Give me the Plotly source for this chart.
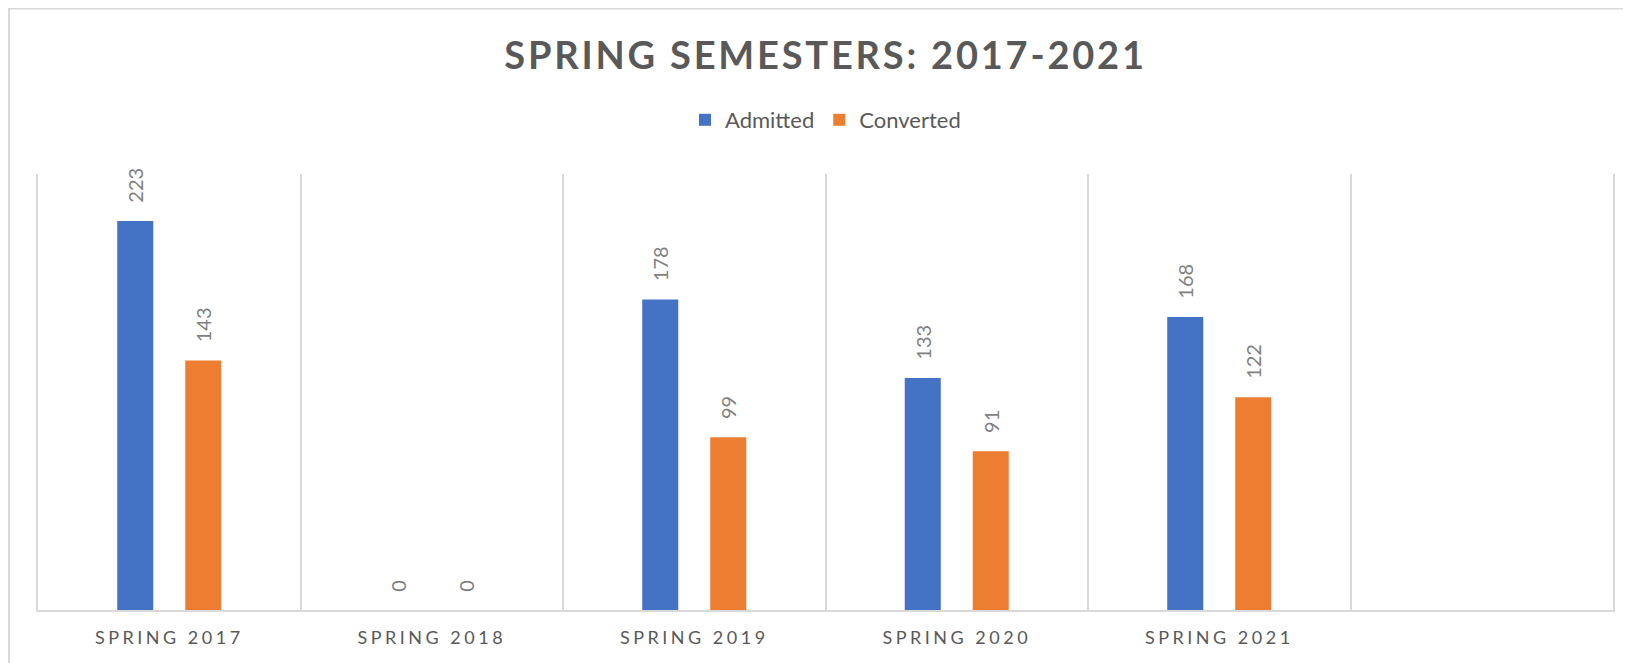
import plotly.graph_objects as go

categories = ["SPRING 2017", "SPRING 2018", "SPRING 2019", "SPRING 2020", "SPRING 2021"]
admitted = [223, 0, 178, 133, 168]
converted = [143, 0, 99, 91, 122]
series_names = ["Admitted", "Converted"]
colors = ["#4472C4", "#ED7D31"]

x_pos = list(range(len(categories)))
boundaries = [i - 0.5 for i in range(len(categories) + 2)]

# page body has an 8px margin, so the figure is sized to fit the window
W, H = 1623, 655
ml, mr, mt, mb = 30, 18, 166, 53
pw, ph = W - ml - mr, H - mt - mb

FONT = "Lato"
LBL = "#7f7f7f"
TXT = "#595959"
GRID = "#d9d9d9"

fig = go.Figure()
for name, vals, col in zip(series_names, [admitted, converted], colors):
    fig.add_trace(go.Bar(
        x=x_pos, y=vals, name=name,
        marker=dict(color=col, line=dict(width=0)),
        text=[str(v) for v in vals],
        texttemplate="\u00a0\u00a0\u00a0%{text}",
        textposition="outside", textangle=-90,
        textfont=dict(family=FONT, size=20, color=LBL),
        constraintext="none", cliponaxis=False,
        hoverinfo="skip",
    ))

ticktext = ['<span style="letter-spacing:3.5px">%s</span>' % c for c in categories]

fig.update_layout(
    width=W, height=H,
    margin=dict(l=ml, r=mr, t=mt, b=mb, pad=0),
    paper_bgcolor="white", plot_bgcolor="white",
    barmode="group", bargap=0.482, bargroupgap=0.47,
    title=dict(
        text='<b><span style="letter-spacing:2.8px">SPRING SEMESTERS: 2017-2021</span></b>',
        font=dict(family=FONT, size=38, color=TXT),
        x=0.5, xref="paper", xanchor="center",
        y=1 - 48 / H, yref="container", yanchor="middle",
    ),
    legend=dict(
        orientation="h", x=0.5, xanchor="center",
        y=1 - 112 / H, yref="container", yanchor="middle",
        font=dict(family=FONT, size=22, color=TXT),
        itemwidth=30, bgcolor="rgba(0,0,0,0)",
    ),
    xaxis=dict(
        range=[-0.5, len(categories) + 0.5],
        tickmode="array", tickvals=x_pos, ticktext=ticktext,
        tickfont=dict(family=FONT, size=18, color=TXT),
        showgrid=False, zeroline=False,
        showline=True, linecolor=GRID, linewidth=2,
        ticks="", ticklabelstandoff=10,
        minor=dict(tickmode="array", tickvals=boundaries, showgrid=True,
                   gridcolor=GRID, gridwidth=1.5, ticks=""),
        fixedrange=True,
    ),
    yaxis=dict(
        range=[0, 250], showticklabels=False, showgrid=False, zeroline=False,
        showline=True, mirror=True, linecolor=GRID, linewidth=1.5, ticks="",
        fixedrange=True,
    ),
    shapes=[dict(
        type="rect", xref="paper", yref="paper",
        x0=(1 - ml) / pw, x1=(W + 10 - ml) / pw,
        y0=-(H + 10 - mt - ph) / ph, y1=(H - mb - 0.5) / ph,
        line=dict(color=GRID, width=2), fillcolor="rgba(0,0,0,0)", layer="below",
    )],
)

fig.write_html("out.html", config={"displayModeBar": False})
